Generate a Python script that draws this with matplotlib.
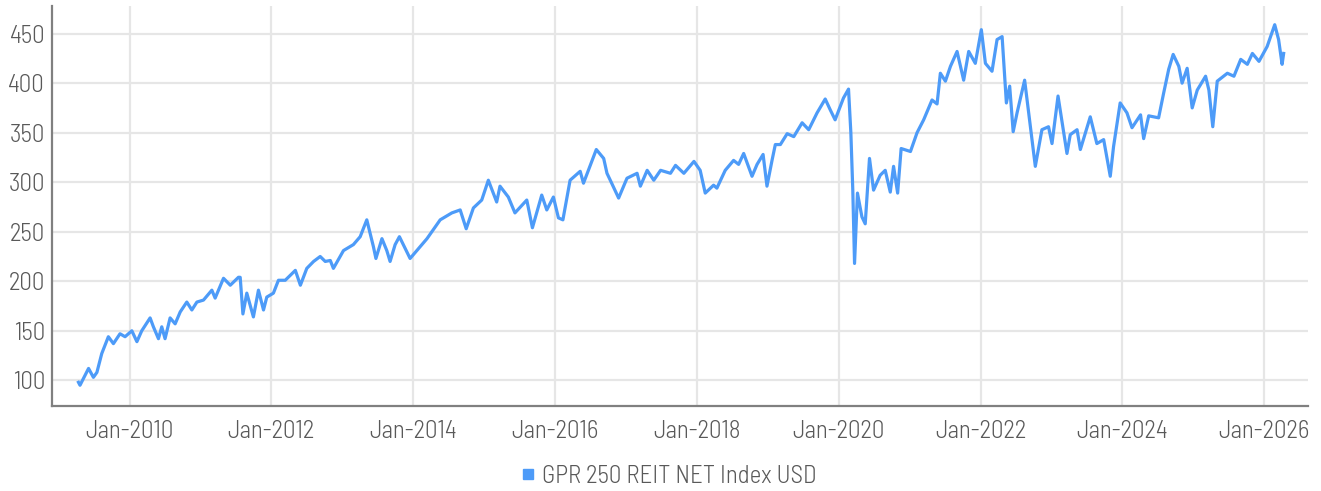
import matplotlib
matplotlib.use("Agg")
import matplotlib.pyplot as plt
import matplotlib.dates as mdates
from matplotlib.lines import Line2D
import pandas as pd

# Index level
dates = [
    "2009-04-13", "2009-04-21", "2009-06-04", "2009-06-29", "2009-07-17", "2009-08-11",
    "2009-09-14", "2009-10-10", "2009-11-13", "2009-12-09", "2010-01-13", "2010-02-08",
    "2010-03-05", "2010-04-17", "2010-05-04", "2010-05-30", "2010-06-16", "2010-07-03",
    "2010-07-29", "2010-08-24", "2010-09-19", "2010-10-23", "2010-11-18", "2010-12-14",
    "2011-01-17", "2011-03-01", "2011-03-18", "2011-04-30", "2011-06-04", "2011-07-16",
    "2011-07-25", "2011-08-08", "2011-08-28", "2011-10-01", "2011-10-27", "2011-11-22",
    "2011-12-09", "2012-01-12", "2012-02-07", "2012-03-13", "2012-04-08", "2012-05-04",
    "2012-05-30", "2012-07-02", "2012-08-06", "2012-09-09", "2012-10-05", "2012-10-31",
    "2012-11-16", "2013-01-07", "2013-02-27", "2013-04-03", "2013-05-07", "2013-06-10",
    "2013-06-23", "2013-07-24", "2013-08-18", "2013-09-04", "2013-09-30", "2013-10-22",
    "2013-12-16", "2014-02-06", "2014-03-13", "2014-05-20", "2014-07-19", "2014-08-31",
    "2014-10-01", "2014-11-07", "2014-12-20", "2015-01-23", "2015-03-07", "2015-03-24",
    "2015-05-06", "2015-06-09", "2015-08-09", "2015-09-07", "2015-10-25", "2015-11-20",
    "2015-12-24", "2016-01-19", "2016-02-11", "2016-03-19", "2016-05-10", "2016-05-27",
    "2016-07-01", "2016-08-01", "2016-09-08", "2016-09-25", "2016-10-12", "2016-11-24",
    "2017-01-06", "2017-02-27", "2017-03-16", "2017-04-20", "2017-05-24", "2017-06-28",
    "2017-08-18", "2017-09-13", "2017-10-26", "2017-12-17", "2018-01-18", "2018-02-13",
    "2018-03-28", "2018-04-14", "2018-05-27", "2018-07-09", "2018-08-04", "2018-08-30",
    "2018-10-12", "2018-11-07", "2018-12-08", "2018-12-28", "2019-01-23", "2019-02-09",
    "2019-03-07", "2019-04-11", "2019-05-15", "2019-06-27", "2019-07-31", "2019-09-12",
    "2019-10-24", "2019-11-19", "2019-12-14", "2020-01-26", "2020-02-21", "2020-03-04",
    "2020-03-14", "2020-03-23", "2020-04-07", "2020-04-30", "2020-05-17", "2020-06-08",
    "2020-06-29", "2020-08-02", "2020-08-28", "2020-09-23", "2020-10-10", "2020-10-31",
    "2020-11-18", "2021-01-05", "2021-02-08", "2021-03-14", "2021-04-26", "2021-05-22",
    "2021-06-08", "2021-07-04", "2021-07-30", "2021-09-02", "2021-10-06", "2021-11-01",
    "2021-12-05", "2022-01-05", "2022-01-26", "2022-03-01", "2022-03-27", "2022-04-22",
    "2022-05-14", "2022-05-31", "2022-06-18", "2022-07-08", "2022-08-16", "2022-09-06",
    "2022-10-10", "2022-11-13", "2022-12-17", "2023-01-04", "2023-02-04", "2023-03-22",
    "2023-04-08", "2023-05-13", "2023-05-30", "2023-07-20", "2023-08-23", "2023-09-27",
    "2023-10-31", "2023-11-17", "2023-12-21", "2024-01-25", "2024-02-20", "2024-04-04",
    "2024-04-20", "2024-05-16", "2024-07-06", "2024-08-01", "2024-08-27", "2024-09-19",
    "2024-10-18", "2024-11-04", "2024-11-30", "2024-12-26", "2025-01-21", "2025-03-05",
    "2025-03-22", "2025-04-11", "2025-05-04", "2025-06-25", "2025-07-29", "2025-09-02",
    "2025-10-06", "2025-11-01", "2025-12-05", "2026-01-16", "2026-02-24", "2026-03-16",
    "2026-04-03", "2026-04-11",
]
values = [
    98, 95, 112, 103, 108, 127,
    144, 137, 147, 144, 150, 139,
    150, 163, 154, 142, 154, 142,
    163, 157, 169, 179, 171, 179,
    181, 191, 183, 203, 196, 204,
    204, 167, 188, 164, 191, 171,
    184, 188, 201, 201, 206, 211,
    196, 213, 220, 225, 220, 221,
    213, 231, 237, 245, 262, 235,
    223, 243, 231, 220, 237, 245,
    223, 235, 243, 262, 269, 272,
    253, 274, 282, 302, 280, 296,
    285, 269, 282, 254, 287, 272,
    285, 264, 262, 302, 311, 299,
    317, 333, 324, 309, 302, 284,
    304, 309, 296, 312, 302, 312,
    309, 317, 309, 321, 312, 289,
    297, 294, 312, 322, 318, 329,
    306, 318, 328, 296, 322, 338,
    338, 349, 346, 360, 353, 370,
    384, 373, 363, 385, 394, 350,
    292, 218, 289, 265, 258, 324,
    292, 307, 312, 290, 316, 289,
    334, 331, 350, 363, 383, 379,
    410, 402, 417, 432, 403, 432,
    420, 454, 420, 412, 444, 447,
    380, 397, 351, 370, 403, 370,
    316, 353, 356, 339, 387, 329,
    348, 353, 333, 366, 339, 343,
    306, 336, 380, 370, 355, 368,
    344, 367, 365, 390, 414, 429,
    417, 400, 415, 375, 393, 407,
    393, 356, 402, 410, 407, 424,
    419, 430, 422, 437, 459, 444,
    419, 430,
]
series_name = "GPR 250 REIT NET Index USD"
y_ticks = [100, 150, 200, 250, 300, 350, 400, 450]

line_color = "#4d9bf8"
text_color = "#595959"
plt.rcParams['font.family'] = ['Barlow Semi Condensed', 'DejaVu Sans']
plt.rcParams['font.weight'] = 300

x = pd.to_datetime(dates)

fig = plt.figure(figsize=(13.21, 4.91), dpi=100)
ax = fig.add_axes([0.0394, 0.173, 0.9507, 0.815])

ax.plot(x, values, color=line_color, linewidth=2.3, solid_joinstyle='round')

ax.set_xlim(pd.Timestamp("2008-11-28"), pd.Timestamp("2026-08-14"))
ax.set_ylim(74, 478)
ax.set_yticks(y_ticks)
ax.xaxis.set_major_locator(mdates.YearLocator(base=2, month=1, day=1))
ax.xaxis.set_major_formatter(mdates.DateFormatter("%b-%Y"))

ax.grid(True, color="#e6e6e6", linewidth=1.6)
ax.set_axisbelow(True)
for s in ["top", "right"]:
    ax.spines[s].set_visible(False)
for s in ["left", "bottom"]:
    ax.spines[s].set_color("#808080")
    ax.spines[s].set_linewidth(1.6)

ax.tick_params(axis='both', length=0, labelsize=18, labelcolor=text_color)
ax.tick_params(axis='y', pad=5)
ax.tick_params(axis='x', pad=10)

handle = Line2D([], [], linestyle='none', marker='s', markersize=7,
                markerfacecolor=line_color, markeredgecolor=line_color)
fig.legend([handle], [series_name], loc='center', bbox_to_anchor=(0.506, 0.03),
           frameon=False, fontsize=18, labelcolor=text_color,
           handlelength=0.6, handletextpad=0.25)

fig.savefig("out.png", dpi=100)
